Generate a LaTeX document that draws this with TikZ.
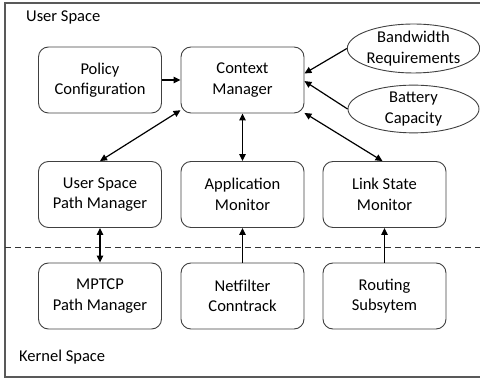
\documentclass[tikz,border=0pt]{standalone}
\usepackage{fontspec}
\setmainfont{Carlito}
\usetikzlibrary{arrows.meta,shapes.geometric}
\begin{document}
\begin{tikzpicture}[x=1pt,y=-1pt,
  box/.style={draw=black!75,line width=0.9pt,rounded corners=10pt,minimum width=123pt,minimum height=66pt,align=center,inner sep=0pt,font=\fontsize{16.5}{20.5}\selectfont},
  oval/.style={draw=black!75,line width=0.9pt,ellipse,minimum width=131pt,minimum height=47pt,align=center,inner sep=0pt,font=\fontsize{16.5}{20.5}\selectfont},
  lbl/.style={anchor=west,inner sep=0pt,font=\fontsize{16.5}{20.5}\selectfont},
  conn/.style={line width=1.2pt,-{Triangle[length=7pt,width=6.5pt]}},
  bconn/.style={line width=1.2pt,{Triangle[length=7pt,width=6.5pt]}-{Triangle[length=7pt,width=6.5pt]}}]
\useasboundingbox (0,0) rectangle (480,379);
\draw[black!65,line width=1.2pt] (5,3) rectangle (490,377);
\draw[black!80,line width=0.9pt,dash pattern=on 6pt off 4pt] (5,247) -- (480,247);
\node[lbl] (us) at (26,17) {User Space};
\node[lbl] (ks) at (19,357) {Kernel Space};
\node[box] (pol) at (100,80) {Policy\\Configuration};
\node[box] (ctx) at (242.5,80) {Context\\Manager};
\node[box] (uspm) at (100,194.5) {User Space\\Path Manager};
\node[box] (app) at (242.5,194.5) {Application\\Monitor};
\node[box] (lsm) at (384.5,194.5) {Link State\\Monitor};
\node[box] (mp) at (100,296) {MPTCP\\Path Manager};
\node[box] (nf) at (242.5,296) {Netfilter\\Conntrack};
\node[box] (rs) at (384.5,296) {Routing\\Subsytem};
\node[oval] (bw) at (413.5,48.5) {Bandwidth\\Requirements};
\node[oval] (bat) at (413.5,109) {Battery\\Capacity};
\draw[conn] (pol.east) -- (ctx.west);
\draw[bconn] (ctx.206) -- (uspm.north);
\draw[bconn] (ctx.south) -- (app.north);
\draw[bconn] (ctx.332) -- ([xshift=-2pt]lsm.north);
\draw[conn] (bw.west) -- (ctx.6);
\draw[conn] (bat.west) -- (ctx.-1);
\draw[bconn] (uspm.south) -- (mp.north);
\draw[conn] (nf.north) -- (app.south);
\draw[conn] (rs.north) -- (lsm.south);
\end{tikzpicture}
\end{document}
